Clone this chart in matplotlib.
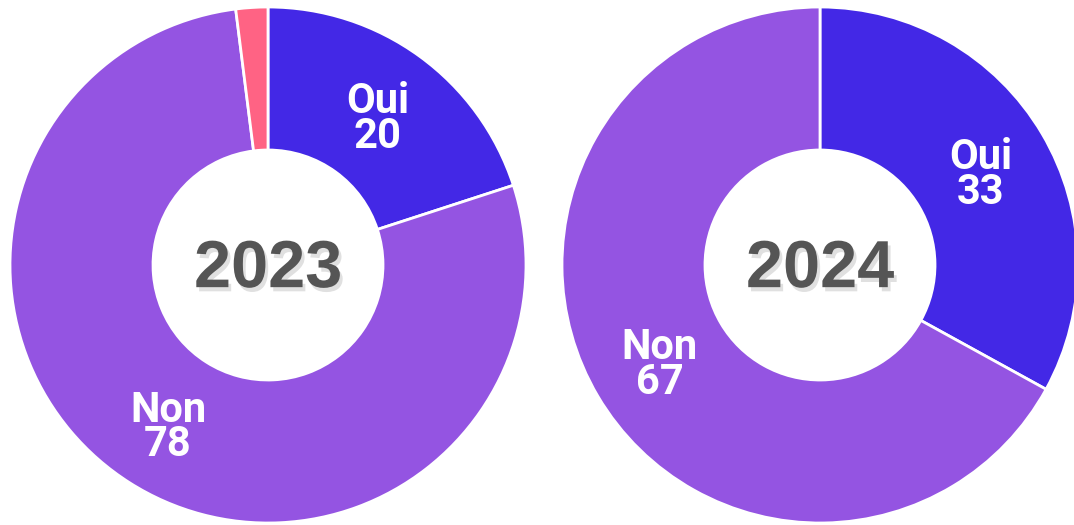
import matplotlib
matplotlib.use("Agg")
import numpy as np
import matplotlib.pyplot as plt
import matplotlib.patheffects as pe

years = ["2023", "2024"]
labels_2023 = ["Oui", "Non", "Autre"]
values_2023 = [20, 78, 2]
labels_2024 = ["Oui", "Non"]
values_2024 = [33, 67]

colors = {"Oui": "#4328e6", "Non": "#9454e2", "Autre": "#ff6384"}

W, H = 1074, 525
fig = plt.figure(figsize=(W / 100, H / 100), dpi=100)

R = 258          # outer radius in px
HOLE = 115       # inner radius in px
CY = 265         # centre height from the top, px


def donut(cx, labels, values, year):
    ax = fig.add_axes([(cx - R) / W, (H - CY - R) / H, 2 * R / W, 2 * R / H])
    width = 1 - HOLE / R
    ax.pie(
        values,
        colors=[colors[l] for l in labels],
        startangle=90,
        counterclock=False,
        radius=1,
        wedgeprops=dict(width=width, edgecolor="white", linewidth=2,
                        joinstyle="round"),
    )
    total = sum(values)
    mid_r = 1 - width / 2
    start = 0.0
    for lab, val in zip(labels, values):
        frac = val / total
        mid = start + frac / 2
        start += frac
        if frac < 0.05:
            continue
        ang = np.deg2rad(90 - mid * 360)
        ax.text(mid_r * np.cos(ang), mid_r * np.sin(ang) - 0.02, f"{lab}\n{val}",
                ha="center", va="center", color="white", fontsize=30,
                fontweight="bold", family="Roboto", linespacing=0.8)
    ax.text(0, -0.02, year, ha="center", va="center", color="#555555",
            fontsize=48, fontweight="bold", family="Liberation Sans",
            path_effects=[pe.withSimplePatchShadow(offset=(2, -3),
                                                   shadow_rgbFace="#999999",
                                                   alpha=0.3)])
    ax.set_xlim(-1, 1)
    ax.set_ylim(-1, 1)
    ax.set_aspect("equal")
    ax.axis("off")


donut(268, labels_2023, values_2023, years[0])
donut(820, labels_2024, values_2024, years[1])

fig.savefig("out.png", dpi=100, facecolor="white")
plt.close(fig)
